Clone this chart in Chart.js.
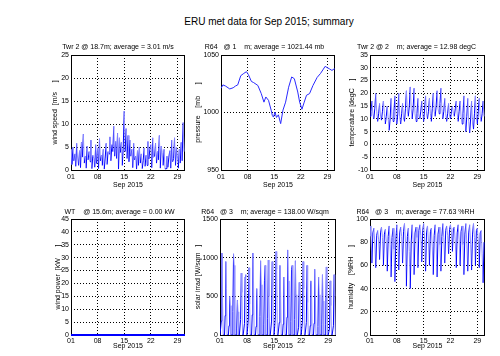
<!DOCTYPE html>
<html><head><meta charset="utf-8">
<script src="https://cdn.jsdelivr.net/npm/chart.js@4"></script>
<style>
html,body{margin:0;padding:0;background:#fff}
body{width:500px;height:356px;position:relative;overflow:hidden;font-family:"Liberation Sans",Arial,sans-serif}
#maintitle{position:absolute;left:0;width:538px;top:16px;text-align:center;font-size:10px;color:#000;line-height:12px}
canvas{position:absolute}
</style></head><body>
<div id="maintitle">ERU met data for Sep 2015; summary</div>
<script>
// ---------------- data ----------------
const xTickDays = [1, 8, 15, 22, 29];
const xTickLabels = ["01", "08", "15", "22", "29"];
const xAxisTitle = "Sep 2015";

// wind speed, 4 samples per day (m/s)
const windSpeed = [
 4.5,1.2,5.0,2.0, 3.5,0.8,5.8,2.4, 1.0,4.2,0.5,6.0, 2.8,7.8,1.5,3.0, 0.4,5.2,2.2,4.0,
 1.8,6.5,0.3,3.2, 2.5,0.6,5.5,1.4, 4.8,0.3,6.8,2.0, 3.2,1.0,4.5,0.2, 2.6,5.8,1.2,4.0,
 3.5,7.2,2.0,5.5, 4.0,9.5,3.0,6.2, 2.5,8.0,0.2,7.0, 3.8,6.0,1.0,5.0, 12.8,4.0,9.0,2.5,
 7.5,1.8,6.5,3.0, 4.5,0.5,5.8,2.2, 3.0,0.2,4.2,1.0, 5.0,1.5,3.5,0.3, 2.0,4.8,0.8,3.2,
 1.0,6.2,2.4,4.5, 5.5,0.5,7.0,2.8, 3.0,5.8,1.5,4.0, 2.2,7.5,0.4,5.2, 3.8,1.0,4.5,0.2,
 0.3,3.0,0.6,2.8, 4.2,0.4,6.5,1.8, 2.5,7.0,1.0,5.0, 3.2,0.4,4.5,1.5, 6.0,2.0,10.3,4.0
];

// pressure (mb) at irregular times (day of month)
const pressureDays = [1.0,1.5,2.2,3.3,4.2,4.8,5.4,6.2,7.0,7.7,8.2,9.0,9.6,10.7,11.6,12.3,12.8,13.5,14.2,14.5,14.8,15.2,15.6,16.1,16.7,17.3,18.0,18.8,19.6,20.3,21.2,21.7,22.3,22.9,23.5,24.3,25.2,26.3,27.2,27.8,28.4,29.5,30.2,30.8,31.0];
const pressure = [1021,1024,1023,1020.5,1021.5,1023,1024,1032,1034,1035.5,1033,1027,1026,1023.5,1016.4,1009,1013.5,1010.6,1002,997.5,996,1000.4,995.7,998,990.3,1002,1009,1022,1030.9,1029.4,1017.8,1009,1002.8,1009,1015,1016.4,1023.5,1030.5,1034,1037,1040.1,1038,1036.6,1038,1037.5];

// temperature, 4 samples per day (degC)
const temperature = [
 11,13,17,12, 10,14,20,13, 9,12,16,11, 9.5,13,17,12, 8,11,15,10,
 5.5,10,18,11, 9,13,19,12, 8,12,20,11, 8,12,16,10, 9,14,21,13,
 11,15,22.5,14, 10,14,22,12, 9,12,18,11, 10,13,17,12, 9,14,19,12,
 10,13,18,12, 9,14,20,13, 11,15,21,14, 12,16,22,14, 10,13,18,12,
 9,12,16,11, 10,13,15,12, 11,14,17,12, 9,13,17,11, 8,12,19,10,
 5,11,18,9, 4.5,10,17,8, 6,12,19,10, 8,13,18,11, 9,12,17,11
];

// wind power, daily (kW)
const windPower = [0,0,0,0,0,0,0,0,0,0,0,0,0,0,0,0,0,0,0,0,0,0,0,0,0,0,0,0,0,0,0];

// solar irradiance, 6 samples per day (W/sqm)
const solar = [
 0,0,180,1060,420,0, 0,0,250,950,600,0, 0,0,120,500,380,0, 0,0,300,1050,900,0, 0,0,90,450,300,0,
 0,0,200,800,550,0, 0,0,150,750,780,0, 0,0,220,870,400,0, 0,0,260,1060,700,0, 0,0,110,600,450,0,
 0,0,240,960,650,0, 0,0,130,700,900,0, 0,0,210,970,500,0, 0,0,180,950,620,0, 0,0,250,1080,850,0,
 0,0,160,900,560,0, 0,0,140,750,480,0, 0,0,230,1100,700,0, 0,0,170,850,900,0, 0,0,200,960,520,0,
 0,0,100,680,400,0, 0,0,190,950,600,0, 0,0,160,900,420,0, 0,0,120,700,650,0, 0,0,150,850,480,0,
 0,0,110,750,520,0, 0,0,130,780,440,0, 0,0,140,880,600,0, 0,0,90,700,380,0, 0,0,120,780,500,0
];

// humidity, 4 samples per day (%RH)
const humidity = [
 94,85,62,88, 92,80,58,86, 90,82,65,88, 93,84,60,87, 91,80,55,85,
 94,78,50,84, 92,74,46,82, 95,82,56,88, 93,85,62,89, 96,80,42,85,
 92,72,40,80, 95,82,52,88, 93,84,58,90, 95,86,63,90, 96,82,55,88,
 94,80,60,89, 92,76,52,86, 95,80,50,87, 93,78,55,85, 96,84,62,90,
 94,86,70,91, 95,88,72,92, 93,80,58,88, 95,82,60,89, 94,78,52,87,
 96,80,55,88, 95,78,56,87, 96,84,60,90, 92,80,58,88, 90,70,45,80
];

const panelTitles = [
 "Twr 2 @ 18.7m; average = 3.01 m/s",
 "R64   @ 1    m; average = 1021.44 mb",
 "Twr 2 @ 2    m; average = 12.98 degC",
 "WT    @ 15.6m; average = 0.00 kW",
 "R64   @ 3    m; average = 138.00 W/sqm",
 "R64   @ 3    m; average = 77.63 %RH"
];
const yTitles = [
 "wind speed  [m/s     ]",
 "pressure    [mb      ]",
 "temperature [degC    ]",
 "wind power  [kW      ]",
 "solar irrad [W/sqm   ]",
 "humidity    [%RH     ]"
];
const yRanges = [[0,25,5],[950,1050,50],[-10,35,5],[0,45,5],[0,1500,500],[0,100,20]];

// ---------------- helpers ----------------
const BLUE = '#0000ff', LIGHT = '#9090ff';
const FONT = '"Liberation Sans", Arial, sans-serif';
function perDay(vals, n) { return vals.map((v, i) => ({x: 1 + i / n, y: v})); }
function paired(xs, ys) { return xs.map((x, i) => ({x: x, y: ys[i]})); }

const series = [
 {data: perDay(windSpeed, 4), two: true},
 {data: paired(pressureDays, pressure), two: false, color: '#2a2aff'},
 {data: perDay(temperature, 4), two: true},
 {data: perDay(windPower, 1), two: false, color: BLUE, width: 2},
 {data: perDay(solar, 6), two: true},
 {data: perDay(humidity, 4), two: true}
];

// plot rectangles (layout only)
const rects = [
 {l:71, t:55, r:185, b:170, yt:55,  tt:43, row:0},
 {l:221,t:55, r:335, b:170, yt:198.5,tt:43, row:0},
 {l:370,t:55, r:485, b:170, yt:352, tt:43, row:0},
 {l:71, t:219,r:185, b:335, yt:58.3,tt:208, row:1},
 {l:220,t:219,r:336, b:335, yt:198.3,tt:208, row:1},
 {l:370,t:219,r:485, b:335, yt:350.7,tt:208, row:1}
];

const boxPlugin = {
  id: 'box',
  beforeDatasetsDraw(chart) {
    const a = chart.chartArea, ctx = chart.ctx;
    ctx.save();
    ctx.strokeStyle = '#000'; ctx.lineWidth = 1;
    ctx.strokeRect(Math.round(a.left) + 0.5, Math.round(a.top) + 0.5,
                   Math.round(a.right - a.left) - 1, Math.round(a.bottom - a.top));
    ctx.restore();
  }
};

const LH = 1.2, FS = 7;
rects.forEach((R, k) => {
  const yw = Math.round(R.l - R.yt + FS * LH / 2);
  const yPadTop = Math.max(0, R.yt - FS * LH / 2 - (R.l - yw));
  const titleH = R.t - R.tt;
  const xh = R.row === 0 ? 22 : 18;
  const xTitleCenter = R.row === 0 ? 15 : 11.5;
  const xPadBottom = xh - xTitleCenter - FS * LH / 2;
  const padR = 4;
  const W = yw + (R.r - R.l) + padR;
  const H = titleH + (R.b - R.t) + xh;
  const cv = document.createElement('canvas');
  cv.width = W; cv.height = H;
  cv.style.left = (R.l - yw) + 'px';
  cv.style.top = R.tt + 'px';
  cv.style.width = W + 'px'; cv.style.height = H + 'px';
  document.body.appendChild(cv);
  const s = series[k];
  const rng = yRanges[k];
  new Chart(cv, {
    type: 'line',
    data: { datasets: [{
      data: s.data,
      borderColor: s.two ? BLUE : s.color,
      borderWidth: s.width || 1,
      pointRadius: 0,
      tension: 0,
      clip: s.width ? false : undefined,
      segment: s.two ? { borderColor: c => (c.p1.parsed.y < c.p0.parsed.y ? LIGHT : BLUE) } : undefined
    }]},
    options: {
      responsive: false,
      animation: false,
      devicePixelRatio: 1,
      layout: { padding: { left: 0, right: padR, top: 0, bottom: 0 } },
      plugins: {
        legend: { display: false },
        tooltip: { enabled: false },
        title: {
          display: true, text: panelTitles[k], color: '#000',
          font: { family: FONT, size: FS, lineHeight: LH, weight: 'normal' },
          padding: { top: 0, bottom: titleH - FS * LH }
        }
      },
      scales: {
        x: {
          type: 'linear', min: 1, max: 31,
          afterBuildTicks: sc => { sc.ticks = xTickDays.map(v => ({value: v})); },
          afterFit: sc => { sc.height = xh; },
          ticks: {
            color: '#000', padding: R.row === 0 ? 3 : 2, maxRotation: 0, autoSkip: false,
            font: { family: FONT, size: FS },
            callback: (v) => { const i = xTickDays.indexOf(v); return i >= 0 ? xTickLabels[i] : ''; }
          },
          grid: { color: '#000', lineWidth: 1, drawTicks: false },
          border: { display: false, dash: [1, 2] },
          title: { display: true, text: xAxisTitle, color: '#000',
                   font: { family: FONT, size: FS, lineHeight: LH },
                   padding: { top: 0, bottom: xPadBottom } }
        },
        y: {
          type: 'linear', min: rng[0], max: rng[1],
          afterFit: sc => { sc.width = yw; },
          ticks: { stepSize: rng[2], color: '#000', padding: 2,
                   font: { family: FONT, size: FS },
                   callback: v => String(v) },
          grid: { color: '#000', lineWidth: 1, drawTicks: false },
          border: { display: false, dash: [1, 2] },
          title: { display: true, text: yTitles[k], color: '#000',
                   font: { family: FONT, size: FS, lineHeight: LH },
                   padding: { top: yPadTop, bottom: 0 } }
        }
      }
    },
    plugins: [boxPlugin]
  });
});
</script>
</body></html>
